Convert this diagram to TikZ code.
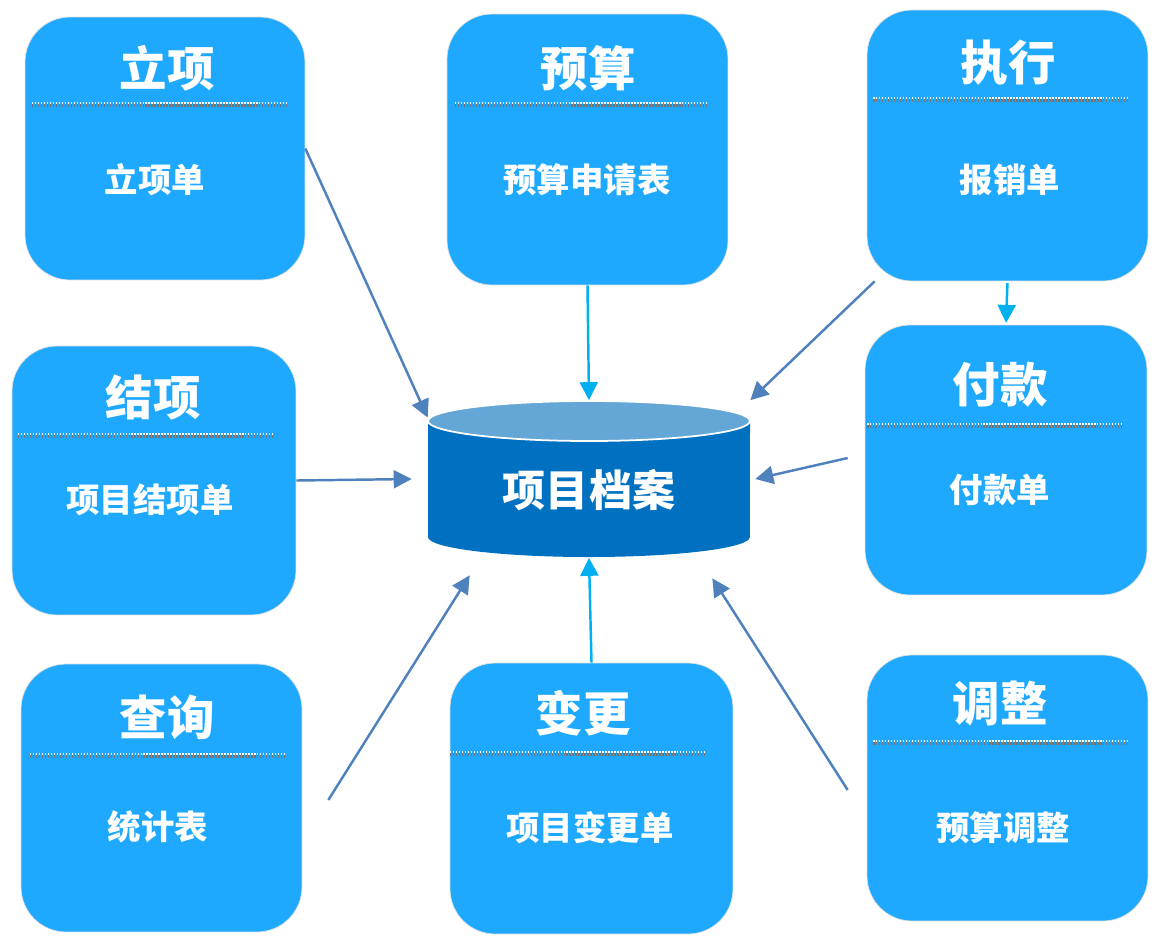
\documentclass[tikz,border=0pt]{standalone}
\usepackage{fontspec}
\newfontfamily\cjk{Noto Sans CJK SC}
\usetikzlibrary{arrows.meta}
\definecolor{boxblue}{RGB}{30,169,255}
\definecolor{cylbody}{RGB}{0,112,192}
\definecolor{cyltop}{RGB}{100,166,214}
\definecolor{linkblue}{RGB}{79,129,189}
\definecolor{linkcyan}{RGB}{0,176,240}
\begin{document}
\begin{tikzpicture}[x=0.02cm,y=-0.02cm,
    box/.style={draw=black!12,fill=boxblue,rounded corners=0.9cm,inner sep=0pt},
    ttl/.style={text=white,font=\cjk\bfseries\fontsize{27}{27}\selectfont},
    sub/.style={text=white,font=\cjk\bfseries\fontsize{19}{19}\selectfont},
    sepdark/.style={draw=black!55,line width=1.7pt,dash pattern=on 0.85pt off 0.85pt},
    seplight/.style={draw=white,line width=1.1pt,dash pattern=on 0.85pt off 0.85pt},
    link/.style={draw=linkblue,line width=1.4pt,-{Triangle[length=0.36cm,width=0.36cm]}},
    feed/.style={draw=linkcyan,line width=1.4pt,-{Triangle[length=0.36cm,width=0.36cm]}}]
    \useasboundingbox[fill=white] (0,0) rectangle (1167,948);

    % boxes
    \node[box,minimum width=5.6cm,minimum height=5.26cm] (lixiang) at (165,148.5) {};
    \node[box,minimum width=5.62cm,minimum height=5.42cm] (yusuan) at (587.5,149.5) {};
    \node[box,minimum width=5.62cm,minimum height=5.42cm] (zhixing) at (1007.5,145.5) {};
    \node[box,minimum width=5.68cm,minimum height=5.38cm] (jiexiang) at (154,480.5) {};
    \node[box,minimum width=5.64cm,minimum height=5.4cm] (fukuan) at (1006,460) {};
    \node[box,minimum width=5.62cm,minimum height=5.36cm] (chaxun) at (161.5,798) {};
    \node[box,minimum width=5.66cm,minimum height=5.42cm] (biangeng) at (591.5,798.5) {};
    \node[box,minimum width=5.62cm,minimum height=5.32cm] (tiaozheng) at (1007.5,788) {};

    % titles
    \node[ttl] (lixiangT) at (167,68) {立项};
    \node[ttl] (yusuanT) at (588,68) {预算};
    \node[ttl] (zhixingT) at (1008,63) {执行};
    \node[ttl] (jiexiangT) at (153,397) {结项};
    \node[ttl] (fukuanT) at (1000,385) {付款};
    \node[ttl] (chaxunT) at (167,717) {查询};
    \node[ttl] (biangengT) at (583,713) {变更};
    \node[ttl] (tiaozhengT) at (1000,703) {调整};

    % separators
    \foreach \xa/\xb/\yy in {32/287/104, 455/708/104, 873/1128/99, 18/272/435,
                             867/1123/425, 30/286/755, 450/706/753, 873/1128/742} {
        \draw[sepdark] (\xa,\yy+1.2) -- (\xb,\yy+1.2);
        \draw[seplight] (\xa,\yy-0.6) -- (\xb,\yy-0.6);
    }

    % forms
    \node[sub] (lixiangS) at (155,180) {立项单};
    \node[sub] (yusuanS) at (587,180) {预算申请表};
    \node[sub] (zhixingS) at (1010,180) {报销单};
    \node[sub] (jiexiangS) at (150,500) {项目结项单};
    \node[sub] (fukuanS) at (1000,490) {付款单};
    \node[sub] (chaxunS) at (158,827) {统计表};
    \node[sub] (biangengS) at (590,828) {项目变更单};
    \node[sub] (tiaozhengS) at (1003,828) {预算调整};

    % archive
    \fill[cylbody] (428,421) -- (428,537) arc[start angle=180,end angle=360,x radius=3.22cm,y radius=0.4cm]
        -- (750,421) arc[start angle=0,end angle=180,x radius=3.22cm,y radius=0.4cm] -- cycle;
    \draw[white,line width=1pt,fill=cyltop] (589,421) ellipse[x radius=3.22cm,y radius=0.4cm];
    \node[minimum width=6.44cm,minimum height=3.14cm,inner sep=0pt] (archive) at (589,479) {};
    \node[text=white,font=\cjk\bfseries\fontsize{24.5}{24.5}\selectfont] (archiveT) at (589,490) {项目档案};

    % links
    \draw[link] (lixiang.east) -- ([yshift=-0.35cm]archive.north west);
    \draw[feed] (yusuan.south) -- (archive.north);
    \draw[link] ([xshift=0.16cm]zhixing.south west) -- (archive.north east);
    \draw[feed,shorten <=1pt,shorten >=1pt] (zhixing.south) -- (fukuan.north);
    \draw[link] (jiexiang.east) -- ([xshift=-0.32cm]archive.west);
    \draw[link] ([xshift=-0.34cm,yshift=0.04cm]fukuan.west) -- ([xshift=0.1cm]archive.east);
    \draw[link] ([xshift=0.52cm,yshift=-0.04cm]chaxun.east) -- ([xshift=0.84cm,yshift=-0.35cm]archive.south west);
    \draw[feed] (biangeng.north) -- (archive.south);
    \draw[link] ([xshift=-0.38cm,yshift=-0.04cm]tiaozheng.west) -- ([xshift=-0.76cm,yshift=-0.41cm]archive.south east);
\end{tikzpicture}
\end{document}
